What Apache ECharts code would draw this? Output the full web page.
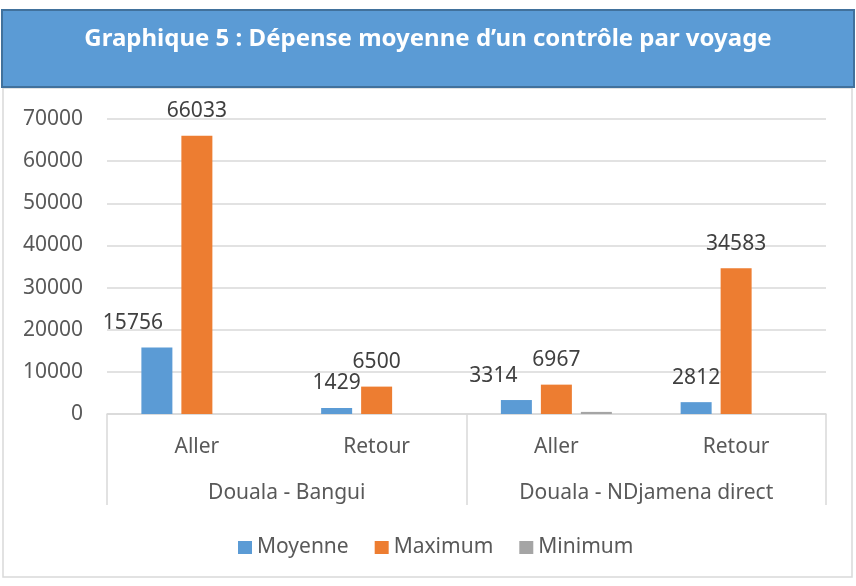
<!DOCTYPE html>
<html>
<head>
<meta charset="utf-8">
<script src="https://cdn.jsdelivr.net/npm/echarts@6/dist/echarts.min.js"></script>
<style>
html,body{margin:0;padding:0;background:#fff;}
#chart{width:856px;height:586px;}
</style>
</head>
<body>
<div id="chart"></div>
<script>
// ---- data ----
const titleText = 'Graphique 5 : Dépense moyenne d’un contrôle par voyage';
const subCategories = ['Aller', 'Retour', 'Aller', 'Retour'];
const groups = ['Douala - Bangui', 'Douala - NDjamena direct'];
const seriesNames = ['Moyenne', 'Maximum', 'Minimum'];
const moyenne = [15756, 1429, 3314, 2812];
const maximum = [66033, 6500, 6967, 34583];
const minimum = [0, 0, 500, 0];
const yTicks = [0, 10000, 20000, 30000, 40000, 50000, 60000, 70000];

// ---- styling / layout ----
const FONT = 'Noto Sans';
const TXT = '#595959';
const FS = 21;
const colors = ['#5B9BD5', '#ED7D31', '#A5A5A5'];
const moyShift = [-24, 0, -23, 0];

const chart = echarts.init(document.getElementById('chart'));

const labelBase = {
  show: true, position: 'top', distance: 14,
  fontFamily: FONT, fontSize: FS, color: '#404040'
};

const moyData = moyenne.map((v, i) => ({
  value: v,
  label: moyShift[i] ? { offset: [moyShift[i], 0] } : {}
}));

chart.setOption({
  animation: false,
  color: colors,
  textStyle: { fontFamily: FONT },
  title: {
    text: titleText,
    left: 'center', top: 22,
    textStyle: { color: '#fff', fontSize: 24, fontWeight: 'bold', fontFamily: FONT }
  },
  graphic: [
    { type: 'rect', z: -10, shape: { x: 3, y: 88, width: 849, height: 489 },
      style: { fill: '#fff', stroke: '#D9D9D9', lineWidth: 1.5 } },
    { type: 'rect', z: -5, shape: { x: 2, y: 10, width: 852, height: 77 },
      style: { fill: '#5B9BD5', stroke: '#41719C', lineWidth: 2 } }
  ],
  grid: { left: 107, right: 30, top: 119, bottom: 172 },
  legend: {
    data: seriesNames,
    left: 233, top: 532,
    itemWidth: 14, itemHeight: 13, itemGap: 26,
    icon: 'rect',
    textStyle: { fontFamily: FONT, fontSize: FS, color: TXT }
  },
  xAxis: [
    {
      type: 'category', data: subCategories, position: 'bottom',
      axisLine: { lineStyle: { color: '#D9D9D9', width: 1.5 } },
      axisTick: { show: false },
      axisLabel: { margin: 23, fontFamily: FONT, fontSize: FS, color: TXT }
    },
    {
      type: 'category', data: groups, position: 'bottom',
      axisLine: { show: false },
      axisTick: { show: true, length: 91, lineStyle: { color: '#D9D9D9', width: 1.5 } },
      axisLabel: { margin: 69, fontFamily: FONT, fontSize: FS, color: TXT },
      splitLine: { show: false }
    }
  ],
  yAxis: {
    type: 'value', min: yTicks[0], max: yTicks[yTicks.length - 1], interval: 10000,
    axisLine: { show: false }, axisTick: { show: false },
    splitLine: { lineStyle: { color: '#D9D9D9', width: 1.5 } },
    axisLabel: { margin: 24, fontFamily: FONT, fontSize: FS, color: TXT,
      formatter: v => String(v) }
  },
  series: [
    { name: seriesNames[0], type: 'bar', xAxisIndex: 0, data: moyData,
      barWidth: 31, barGap: '29%', label: labelBase },
    { name: seriesNames[1], type: 'bar', xAxisIndex: 0, data: maximum,
      barWidth: 31, barGap: '29%', label: labelBase },
    { name: seriesNames[2], type: 'bar', xAxisIndex: 0, data: minimum,
      barWidth: 31, barGap: '29%', label: { show: false } }
  ]
});
</script>
</body>
</html>
